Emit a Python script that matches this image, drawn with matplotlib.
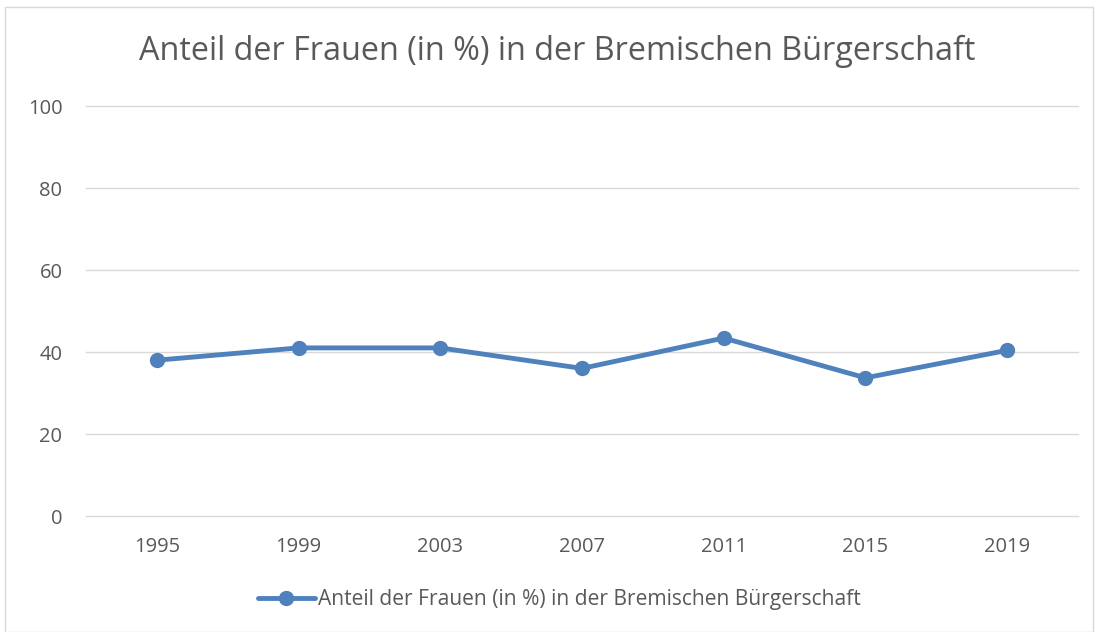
import matplotlib
matplotlib.use("Agg")
import matplotlib.pyplot as plt
from matplotlib.patches import Rectangle

years = ["1995", "1999", "2003", "2007", "2011", "2015", "2019"]
share = [38.0, 41.0, 41.0, 36.0, 43.4, 33.7, 40.4]
yticks = [0, 20, 40, 60, 80, 100]
title = "Anteil der Frauen (in %) in der Bremischen Bürgerschaft"

plt.rcParams['font.family'] = ['Open Sans', 'DejaVu Sans']
color = "#4F81BD"
text_color = "#595959"

fig = plt.figure(figsize=(10.99, 6.32), dpi=100)
fig.patches.append(Rectangle((5/1099, 0), 1088/1099, 1 - 7/632, transform=fig.transFigure,
                             fill=False, edgecolor="#D9D9D9", linewidth=1))
ax = fig.add_axes([86/1099, 1 - 516/632, (1078-86)/1099, (516-106)/632])
x = list(range(len(years)))
line, = ax.plot(x, share, color=color, linewidth=3.5, marker='o', markersize=10,
                label=title, solid_capstyle='round', zorder=3)
ax.set_xlim(-0.5, len(years) - 0.5)
ax.set_ylim(0, 100)
ax.set_yticks(yticks)
ax.set_xticks(x)
ax.set_xticklabels(years)
for s in ax.spines.values():
    s.set_visible(False)
ax.grid(axis='y', color="#D9D9D9", linewidth=1)
for gl in ax.get_ygridlines():
    gl.set_clip_on(False)
ax.set_axisbelow(True)
ax.tick_params(axis='both', length=0, labelsize=14.5, colors=text_color)
ax.tick_params(axis='y', pad=17)
ax.tick_params(axis='x', pad=15)

fig.text(557/1099, 1 - 51/632, title, ha='center', va='center', fontsize=23.3, color=text_color)
leg = fig.legend(handles=[line], loc='center', bbox_to_anchor=(559/1099, 1 - 600/632),
                 frameon=False, fontsize=15.1, handlelength=2.75, handletextpad=0.12,
                 labelcolor=text_color)
fig.savefig("out.png", dpi=100)
